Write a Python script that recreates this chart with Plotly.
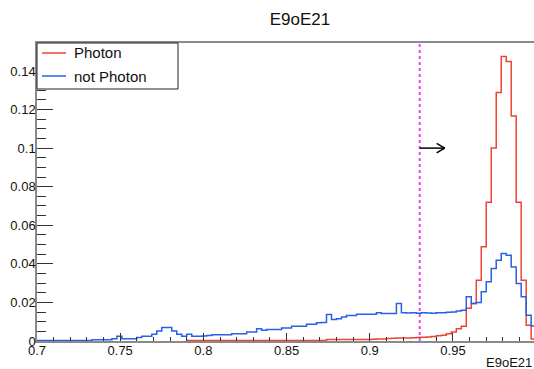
import plotly.graph_objects as go

# ---------------- data ----------------
X_MIN = 0.7
BIN_WIDTH = 0.003
N_BINS = 100

photon = [
    0.0, 0.0, 0.0, 0.0, 0.0, 0.0, 0.0, 0.0, 0.0, 0.0,
    0.0, 0.0, 0.0, 0.0, 0.0, 0.0, 0.0, 0.0, 0.0, 0.0,
    0.0, 0.0, 0.0, 0.0, 0.0, 0.0, 0.0, 0.0, 0.0, 0.0,
    0.0002, 0.0002, 0.0002, 0.0002, 0.0002, 0.0002, 0.0002, 0.0002, 0.0002, 0.0002,
    0.0002, 0.0002, 0.0002, 0.0002, 0.0002, 0.0002, 0.0002, 0.0002, 0.0002, 0.0002,
    0.0002, 0.0002, 0.0002, 0.0002, 0.0002, 0.0002, 0.0002, 0.0002, 0.0008, 0.0008,
    0.0008, 0.0008, 0.0008, 0.0008, 0.0008, 0.0008, 0.0008, 0.0009, 0.0010, 0.0011,
    0.0013, 0.0014, 0.0015, 0.0015, 0.0016, 0.0017, 0.0018, 0.0020, 0.0021, 0.0023,
    0.0027, 0.0030, 0.0038, 0.0047, 0.0064, 0.0076, 0.0170, 0.0195, 0.0315, 0.0488,
    0.0719, 0.1000, 0.1288, 0.1475, 0.1449, 0.1167, 0.0719, 0.0315, 0.0082, 0.0010,
]

not_photon = [
    0.0002, 0.0002, 0.0002, 0.0002, 0.0002, 0.0002, 0.0002, 0.0002, 0.0002, 0.0002,
    0.0002, 0.0007, 0.0007, 0.0007, 0.0007, 0.0012, 0.0024, 0.0012, 0.0012, 0.0012,
    0.0018, 0.0024, 0.0024, 0.0035, 0.0052, 0.0070, 0.0070, 0.0052, 0.0035, 0.0024,
    0.0035, 0.0024, 0.0024, 0.0026, 0.0028, 0.0033, 0.0033, 0.0033, 0.0033, 0.0038,
    0.0038, 0.0038, 0.0047, 0.0047, 0.0064, 0.0056, 0.0059, 0.0059, 0.0059, 0.0068,
    0.0068, 0.0076, 0.0076, 0.0076, 0.0087, 0.0087, 0.0094, 0.0096, 0.0137, 0.0111,
    0.0116, 0.0125, 0.0132, 0.0132, 0.0139, 0.0139, 0.0139, 0.0139, 0.0146, 0.0143,
    0.0142, 0.0143, 0.0194, 0.0146, 0.0145, 0.0147, 0.0144, 0.0146, 0.0145, 0.0144,
    0.0146, 0.0146, 0.0149, 0.0150, 0.0155, 0.0160, 0.0229, 0.0194, 0.0200, 0.0255,
    0.0307, 0.0376, 0.0419, 0.0454, 0.0445, 0.0384, 0.0298, 0.0229, 0.0134, 0.0078,
]

series_names = ["Photon", "not Photon"]
series_colors = ["#ee4433", "#2a5fe8"]

title_text = "E9oE21"
x_title = "E9oE21"
x_tickvals = [0.7, 0.75, 0.8, 0.85, 0.9, 0.95, 1.0]
x_ticktext = ["0.7", "0.75", "0.8", "0.85", "0.9", "0.95", "1"]
y_tickvals = [0, 0.02, 0.04, 0.06, 0.08, 0.1, 0.12, 0.14]
y_ticktext = ["0", "0.02", "0.04", "0.06", "0.08", "0.1", "0.12", "0.14"]

cut_value = 0.93
arrow_y = 0.1
arrow_end = 0.945

X_RANGE = [0.7, 0.9987]
Y_RANGE = [0, 0.1545]

# ---------------- layout geometry ----------------
W, H = 534, 369
ML, MR, MT, MB = 37, 0, 43, 28
PW, PH = W - ML - MR, H - MT - MB


def px_x(px):
    return (px - ML) / PW


def px_y(py):
    return (H - MB - py) / PH


edges = [X_MIN + BIN_WIDTH * i for i in range(N_BINS + 1)]


def step_trace(values, name, color):
    start = next(i for i, v in enumerate(values) if v > 0)
    xs = edges[start:N_BINS + 1]
    ys = values[start:] + [values[-1]]
    return go.Scatter(x=xs, y=ys, mode="lines", line=dict(color=color, width=1.5, shape="hv"),
                      name=name, showlegend=False, hoverinfo="skip")


fig = go.Figure()
fig.add_trace(step_trace(photon, series_names[0], series_colors[0]))
fig.add_trace(step_trace(not_photon, series_names[1], series_colors[1]))

font_family = "Liberation Sans, Arial, sans-serif"
axis_line = "#8a8a8a"
tick_col = "#333333"

fig.update_layout(
    width=W, height=H,
    margin=dict(l=ML, r=MR, t=MT, b=MB, pad=0),
    paper_bgcolor="white", plot_bgcolor="white",
    font=dict(family=font_family, color="#111111"),
    title=dict(text=title_text, x=300 / W, xref="container", xanchor="center",
               y=1 - 19 / H, yref="container", yanchor="middle",
               font=dict(size=17, family=font_family, color="#111111")),
    xaxis=dict(range=X_RANGE, showgrid=False, zeroline=False,
               showline=True, linecolor=axis_line, linewidth=1.5, mirror=True,
               ticks="inside", ticklen=8, tickwidth=1, tickcolor=tick_col,
               tickmode="array", tickvals=x_tickvals, ticktext=x_ticktext,
               ticklabelstandoff=-3,
               tickfont=dict(size=13, family=font_family, color="#111111"),
               minor=dict(dtick=0.01, tick0=0.7, ticks="inside", ticklen=4,
                          tickwidth=1, tickcolor=tick_col, showgrid=False)),
    yaxis=dict(range=Y_RANGE, showgrid=False, zeroline=False,
               showline=True, linecolor=axis_line, linewidth=1.5, mirror=False,
               ticks="inside", ticklen=16, tickwidth=1, tickcolor=tick_col,
               tickmode="array", tickvals=y_tickvals, ticktext=y_ticktext,
               ticklabelstandoff=-3,
               tickfont=dict(size=13, family=font_family, color="#111111"),
               minor=dict(dtick=0.005, tick0=0, ticks="inside", ticklen=9,
                          tickwidth=1, tickcolor=tick_col, showgrid=False)),
)

# cut line and arrow
fig.add_shape(type="line", xref="x", yref="paper", x0=cut_value, x1=cut_value, y0=0, y1=1,
              line=dict(color="#ee44ee", width=2, dash="dot"))
fig.add_shape(type="line", xref="x", yref="y", x0=cut_value, x1=arrow_end, y0=arrow_y, y1=arrow_y,
              line=dict(color="black", width=1.5))
head_dx = 8 / PW * (X_RANGE[1] - X_RANGE[0])
head_dy = 4.7 / PH * (Y_RANGE[1] - Y_RANGE[0])
for s in (1, -1):
    fig.add_shape(type="line", xref="x", yref="y", x0=arrow_end - head_dx, x1=arrow_end,
                  y0=arrow_y + s * head_dy, y1=arrow_y, line=dict(color="black", width=1.5))

# legend box (drawn by hand, ROOT style)
fig.add_shape(type="rect", xref="paper", yref="paper", x0=px_x(37), x1=px_x(178),
              y0=px_y(89), y1=px_y(43), line=dict(color="#222222", width=1), fillcolor="white",
              layer="above")
for k, (name, color) in enumerate(zip(series_names, series_colors)):
    yy = px_y(53 + 23 * k)
    fig.add_shape(type="line", xref="paper", yref="paper", x0=px_x(42), x1=px_x(66), y0=yy, y1=yy,
                  line=dict(color=color, width=1.5), layer="above")
    fig.add_annotation(text=name, xref="paper", yref="paper", x=px_x(72), y=yy,
                       xanchor="left", yanchor="middle", showarrow=False,
                       font=dict(size=15, family=font_family, color="#111111"))

# x-axis title
fig.add_annotation(text=x_title, xref="paper", yref="paper", x=1, y=px_y(362),
                   xanchor="right", yanchor="middle", showarrow=False,
                   font=dict(size=13, family=font_family, color="#111111"))

fig.write_html("out.html")
